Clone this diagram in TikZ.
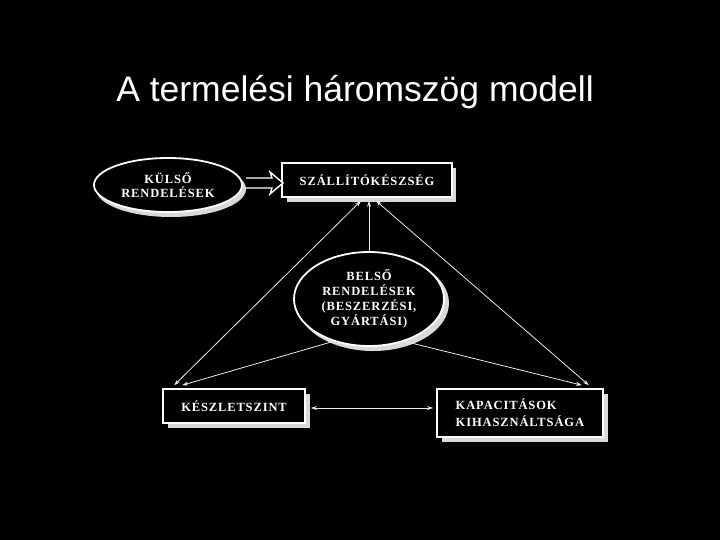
\documentclass[tikz,border=0pt]{standalone}
\usepackage{fontspec}
\setmainfont{Liberation Serif}
\newfontfamily\titlefont{Liberation Sans}
\newfontfamily\boxfont[LetterSpace=7]{Liberation Serif}
\usetikzlibrary{shapes.geometric,arrows.meta,calc}
\begin{document}
\begin{tikzpicture}[x=1pt,y=-1pt,
  lbl/.style={text=white,font=\boxfont\bfseries\fontsize{12.5}{14}\selectfont,align=center},
  boxnode/.style={draw=white,line width=1.6pt,fill=black,rectangle,inner sep=0pt},
  ellnode/.style={draw=white,line width=1.8pt,fill=black,ellipse,inner sep=0pt},
  shadow/.style={fill=white!85!black},
  conn/.style={draw=white!92!black,line width=0.8pt},
  tip/.style={-{Stealth[length=6pt,width=4pt]}},
  tips/.style={{Stealth[length=6pt,width=4pt]}-{Stealth[length=6pt,width=4pt]}},
  ]
\fill[black] (0,0) rectangle (720,540);
\useasboundingbox (0,0) rectangle (720,540);

\node[text=white,font=\titlefont\fontsize{35.5}{40}\selectfont,anchor=base] (title) at (355,102) {A termelési háromszög modell};

% shadows
\fill[shadow] (287,168) rectangle (456,202);
\fill[shadow] (168,394) rectangle (310,428);
\fill[shadow] (442,394) rectangle (608,442);
\fill[shadow] (171,189) ellipse [x radius=75, y radius=28];
\fill[shadow] (373,303) ellipse [x radius=76, y radius=48];

% nodes
\node[ellnode,minimum width=148pt,minimum height=54pt] (kulso) at (168,185) {};
\node[lbl] at (kulso.center) {KÜLSŐ\\RENDELÉSEK};
\node[boxnode,minimum width=170pt,minimum height=34pt] (szall) at (367,180) {};
\node[lbl] at (szall.center) {SZÁLLÍTÓKÉSZSÉG};
\node[ellnode,minimum width=150pt,minimum height=94pt] (belso) at (369,299) {};
\node[lbl,font=\boxfont\bfseries\fontsize{12.5}{15}\selectfont] at (belso.center) {BELSŐ\\RENDELÉSEK\\(BESZERZÉSI,\\GYÁRTÁSI)};
\node[boxnode,minimum width=142pt,minimum height=34pt] (keszlet) at (234,406) {};
\node[lbl] at (keszlet.center) {KÉSZLETSZINT};
\node[boxnode,minimum width=166pt,minimum height=48pt] (kapac) at (520,413) {};
\node[lbl,align=left,anchor=west,font=\boxfont\bfseries\fontsize{12.5}{17}\selectfont] at ($(kapac.west)+(16,0)$) {KAPACITÁSOK\\KIHASZNÁLTSÁGA};

% hollow double arrow
\draw[white,line width=1.4pt,fill=black] (246,178) -- (272,178) -- (270,172) -- (283,183) -- (270,194) -- (272,188) -- (246,188);

% connectors
\coordinate (tl) at ($(szall.south)+(-6,3)$);
\coordinate (tr) at ($(szall.south)+(9,3)$);
\coordinate (bl) at ($(keszlet.north west)+(12,-3)$);
\coordinate (bl2) at ($(keszlet.north west)+(20,-3)$);
\coordinate (br) at ($(kapac.north east)+(-15,-3)$);
\coordinate (br2) at ($(kapac.north east)+(-22,-3)$);
\draw[conn,tips] (bl) -- (tl);
\draw[conn,tips] (br) -- (tr);
\draw[conn,tip] (belso.north) -- ($(szall.south)+(2,3)$);
\draw[conn,tip] (belso.-130) -- (bl2);
\draw[conn,tip] (belso.-50) -- (br2);
\draw[conn,tips] ($(keszlet.east)+(5,2)$) -- ($(kapac.west)+(-3,-5)$);
\end{tikzpicture}
\end{document}
